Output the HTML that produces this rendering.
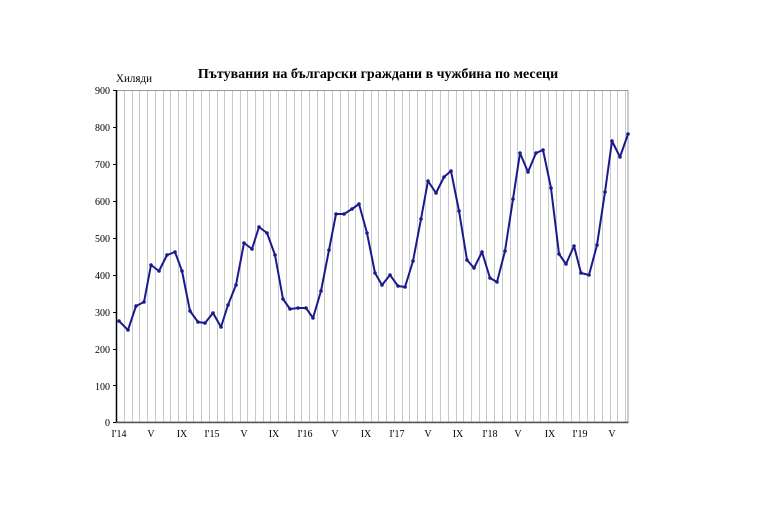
<!DOCTYPE html>
<html><head><meta charset="utf-8"><style>
html,body{margin:0;padding:0;background:#fff;}
svg{display:block;font-family:"Liberation Serif",serif;}
</style></head><body>
<svg width="768" height="515" viewBox="0 0 768 515" xmlns="http://www.w3.org/2000/svg">
<rect width="768" height="515" fill="#fff"/>
<text x="378" y="78" font-size="14" font-weight="bold" text-anchor="middle">Пътувания на български граждани в чужбина по месеци</text>
<text x="116" y="82" font-size="12" textLength="36" lengthAdjust="spacingAndGlyphs">Хиляди</text>
<g id="grid" stroke="#c8c8c8" stroke-width="1"></g>
<rect x="116.5" y="90.5" width="511.5" height="331.5" fill="none" stroke="#999" stroke-width="1"/>
<line x1="116.5" y1="90" x2="116.5" y2="423" stroke="#000" stroke-width="1.5"/>
<line x1="116" y1="422.5" x2="628.5" y2="422.5" stroke="#555" stroke-width="1.5"/>
<g font-size="10" text-anchor="end">
<text x="110" y="94">900</text><text x="110" y="131">800</text><text x="110" y="168">700</text>
<text x="110" y="205">600</text><text x="110" y="242">500</text><text x="110" y="279">400</text>
<text x="110" y="316">300</text><text x="110" y="353">200</text><text x="110" y="390">100</text>
<text x="110" y="426">0</text>
</g>
<g stroke="#000" stroke-width="1">
<line x1="113" y1="90.5" x2="116" y2="90.5"/><line x1="113" y1="127.5" x2="116" y2="127.5"/><line x1="113" y1="164.5" x2="116" y2="164.5"/><line x1="113" y1="201.5" x2="116" y2="201.5"/><line x1="113" y1="238.5" x2="116" y2="238.5"/><line x1="113" y1="275.5" x2="116" y2="275.5"/><line x1="113" y1="312.5" x2="116" y2="312.5"/><line x1="113" y1="349.5" x2="116" y2="349.5"/><line x1="113" y1="385.5" x2="116" y2="385.5"/><line x1="113" y1="422.5" x2="116" y2="422.5"/>
</g>
<g font-size="10" text-anchor="middle">
<text x="119" y="437">I'14</text><text x="151" y="437">V</text><text x="182" y="437">IX</text>
<text x="212" y="437">I'15</text><text x="244" y="437">V</text><text x="274" y="437">IX</text>
<text x="305" y="437">I'16</text><text x="335" y="437">V</text><text x="366" y="437">IX</text>
<text x="397" y="437">I'17</text><text x="428" y="437">V</text><text x="458" y="437">IX</text>
<text x="490" y="437">I'18</text><text x="518" y="437">V</text><text x="550" y="437">IX</text>
<text x="580" y="437">I'19</text><text x="612" y="437">V</text>
</g>
<polyline id="ln" fill="none" stroke="#1a1a8c" stroke-width="2" stroke-linejoin="round" points="119,321 128,330 136,306 144,302 151,265 159,271 167,255 175,252 182,271 190,311 198,322 205,323 213,313 221,327 228,305 236,285 244,243 252,249 259,227 267,233 275,255 283,299 290,309 298,308 306,308 313,318 321,291 329,250 336,214 344,214 352,209 359,204 367,233 375,273 382,285 390,275 398,286 405,287 413,261 421,219 428,181 436,193 444,177 451,171 459,211 467,260 474,268 482,252 490,278 497,282 505,251 513,199 520,153 528,172 536,153 543,150 551,188 559,254 566,264 574,246 581,273 589,275 597,245 605,192 612,141 620,157 628,134"/>
<g id="dots" fill="#1a1a8c"></g>
<script>
var g=document.getElementById('grid'),ns='http://www.w3.org/2000/svg';
for(var i=0;i<66;i++){var x=Math.round(124+i*7.71)+0.5;var l=document.createElementNS(ns,'line');l.setAttribute('x1',x);l.setAttribute('x2',x);l.setAttribute('y1',90);l.setAttribute('y2',422);g.appendChild(l);}
var pts=document.getElementById('ln').getAttribute('points').trim().split(/\s+/),d=document.getElementById('dots');
pts.forEach(function(p){var a=p.split(',');var c=document.createElementNS(ns,'circle');c.setAttribute('cx',a[0]);c.setAttribute('cy',a[1]);c.setAttribute('r',1.8);d.appendChild(c);});
</script>
</svg>
</body></html>
